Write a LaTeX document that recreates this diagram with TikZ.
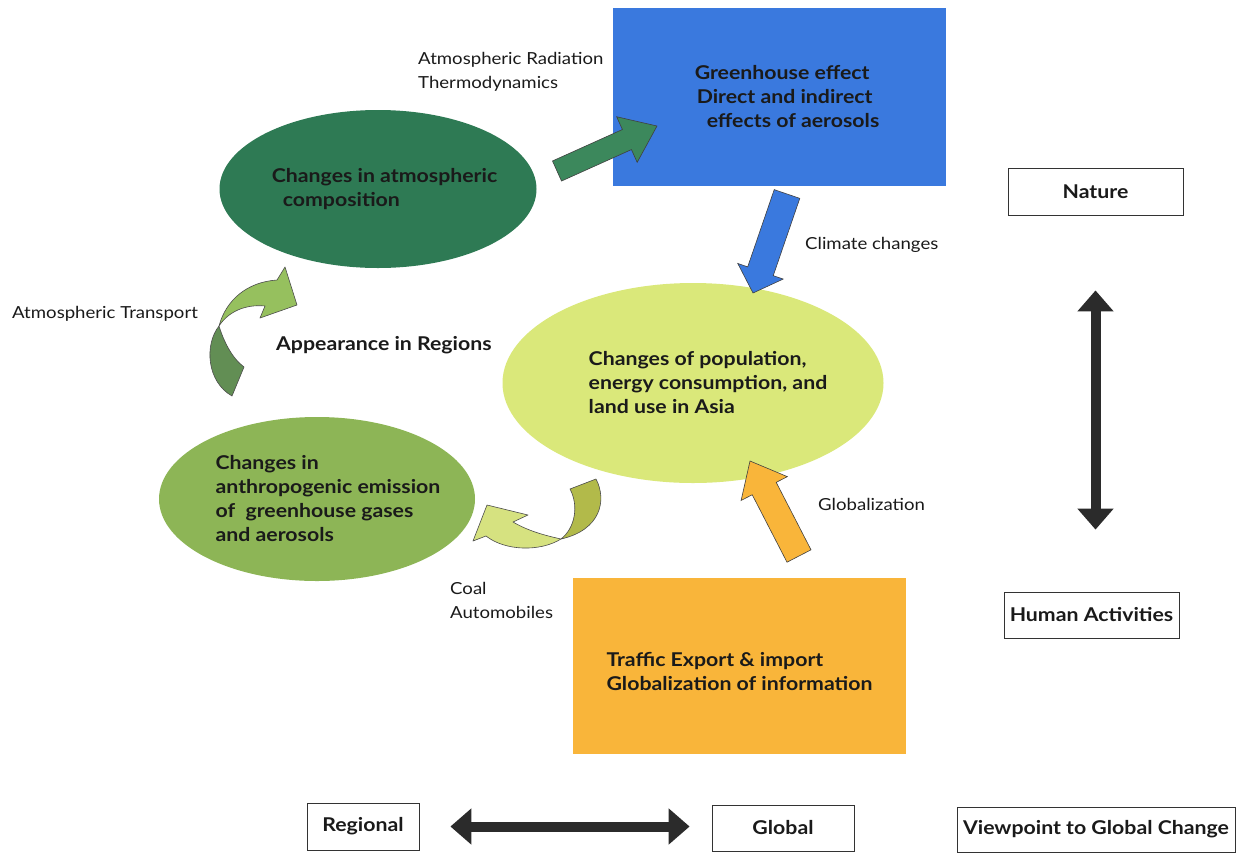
\documentclass[tikz,border=0pt]{standalone}
\usepackage{fontspec}
\setmainfont[FakeStretch=1.12]{Lato}
\usetikzlibrary{calc, positioning}
\usetikzlibrary{shapes.geometric}
\usetikzlibrary{arrows.meta}

\definecolor{atmgreen}{RGB}{46,122,84}
\definecolor{emisgreen}{RGB}{141,181,86}
\definecolor{popyellow}{RGB}{218,232,122}
\definecolor{ghgblue}{RGB}{58,121,222}
\definecolor{tradeorange}{RGB}{249,181,58}
\definecolor{arrowgreen}{RGB}{60,136,92}
\definecolor{transdark}{RGB}{98,142,84}
\definecolor{translight}{RGB}{150,192,94}
\definecolor{coalolive}{RGB}{178,186,74}
\definecolor{coallight}{RGB}{214,226,128}
\definecolor{darkarrow}{RGB}{43,43,43}
\definecolor{inktext}{RGB}{26,26,26}

\newcommand{\boldtext}{\bfseries\fontsize{19}{24}\selectfont}
\newcommand{\plaintext}{\fontsize{16.6}{24}\selectfont}

% tail, tip, shaft half width, head half width, head length, style
\newcommand{\blockarrow}[6]{%
  \coordinate (ba-neck) at ($(#2)!#5!(#1)$);
  \filldraw[#6] ($(#1)!#3!90:(#2)$) -- ($(ba-neck)!#3!-90:(#1)$)
    -- ($(ba-neck)!#4!-90:(#1)$) -- (#2) -- ($(ba-neck)!#4!90:(#1)$)
    -- ($(ba-neck)!#3!90:(#1)$) -- ($(#1)!#3!-90:(#2)$) -- cycle;}

\tikzset{
  blob/.style={ellipse, inner xsep=-12pt, inner ysep=0pt, align=left, font=\boldtext, text=inktext},
  panel/.style={rectangle, inner sep=0pt, align=left, font=\boldtext, text=inktext},
  tagbox/.style={rectangle, draw=black!80, line width=0.8pt, fill=white,
    font=\boldtext, text=inktext},
  note/.style={anchor=west, inner sep=0pt, align=left, font=\plaintext, text=inktext},
  fatarrow/.style={draw=black!75, line width=0.6pt, line join=miter},
  bigdbl/.style={draw=darkarrow, line width=10pt,
    {Triangle[length=21pt, width=35pt]}-{Triangle[length=21pt, width=35pt]}},
  curlpart/.style={draw=black!70, line width=0.6pt, line join=round}
}

\begin{document}
\begin{tikzpicture}[x=1pt, y=-1pt]
\useasboundingbox (0,0) rectangle (1236,852);

\node[blob, fill=atmgreen, minimum width=317pt, minimum height=158pt] (atm) at (378,189)
  {\hspace*{13pt}Changes in atmospheric\\\hspace*{24pt}composition};
\node[panel, fill=ghgblue, minimum width=333pt, minimum height=178pt] (ghg) at (779.5,97)
  {\hspace*{15pt}Greenhouse effect\\\hspace*{17pt}Direct and indirect\\\hspace*{27pt}effects of aerosols};
\node[blob, fill=popyellow, minimum width=381pt, minimum height=200pt] (pop) at (693,383)
  {\hspace*{30pt}Changes of population,\\\hspace*{30pt}energy consumption, and\\\hspace*{30pt}land use in Asia};
\node[blob, fill=emisgreen, minimum width=316pt, minimum height=164pt] (emis) at (317,499)
  {\hspace*{22pt}Changes in\\\hspace*{22pt}anthropogenic emission\\\hspace*{22pt}of\ \ greenhouse gases\\\hspace*{22pt}and aerosols};
\node[panel, fill=tradeorange, minimum width=333pt, minimum height=176pt] (trade) at (739.5,666)
  {\\[2pt]Traffic Export \& import\\Globalization of information};

\node[tagbox, minimum width=175pt, minimum height=47pt] (nature) at (1095.5,191.5) {Nature};
\node[tagbox, minimum width=175pt, minimum height=46pt] (human) at (1091.5,615) {Human Activities};
\node[tagbox, minimum width=112pt, minimum height=47pt] (reg) at (363,826.5) {Regional};
\node[tagbox, minimum width=142pt, minimum height=46pt] (glob) at (783,828) {Global};
\node[tagbox, minimum width=278pt, minimum height=45pt] (view) at (1096,829.5) {Viewpoint to Global Change};

\node[note] (radiation) at (418,72) {Atmospheric Radiation\\Thermodynamics};
\node[note] (climate) at (805,245) {Climate changes};
\node[note] (transport) at (12,314) {Atmospheric Transport};
\node[note, font=\boldtext] (appear) at (276,345) {Appearance in Regions};
\node[note] (globlz) at (818,504) {Globalization};
\node[note] (coal) at (450,600) {Coal\\Automobiles};

\coordinate (g1) at (557,171);
\coordinate (g2) at (657,126);
\coordinate (b1) at (787,194);
\coordinate (b2) at (753,293);
\coordinate (o1) at (799,556);
\coordinate (o2) at (750,461);
\blockarrow{g1}{g2}{11pt}{25pt}{33pt}{fatarrow, fill=arrowgreen}
\blockarrow{b1}{b2}{13.5pt}{24pt}{23pt}{fatarrow, fill=ghgblue}
\blockarrow{o1}{o2}{13.5pt}{26pt}{31pt}{fatarrow, fill=tradeorange}

\filldraw[curlpart, fill=transdark] (219,326) .. controls (204,345) and (207,382) .. (232,396)
  -- (244,367) .. controls (232,358) and (224,342) .. (219,326) -- cycle;
\filldraw[curlpart, fill=translight] (219,326) .. controls (226,300) and (247,282) .. (277,280)
  -- (285,267) -- (297,305) -- (260,318) -- (265,306)
  .. controls (245,304) and (228,312) .. (219,326) -- cycle;

\filldraw[curlpart, fill=coalolive] (570,489) -- (596,479)
  .. controls (607,500) and (601,530) .. (561,539)
  .. controls (575,528) and (579,506) .. (570,489) -- cycle;
\filldraw[curlpart, fill=coallight] (561,539) .. controls (540,552) and (505,551) .. (486,536)
  -- (473,541) -- (487,505) -- (528,515) -- (513,522)
  .. controls (530,532) and (548,536) .. (561,539) -- cycle;

\draw[bigdbl, shorten <=75pt, shorten >=62pt] (nature.south) -- (nature.south |- human.north);
\draw[bigdbl, shorten <=31pt, shorten >=22pt] (reg.east) -- (reg.east -| glob.west);
\end{tikzpicture}
\end{document}
